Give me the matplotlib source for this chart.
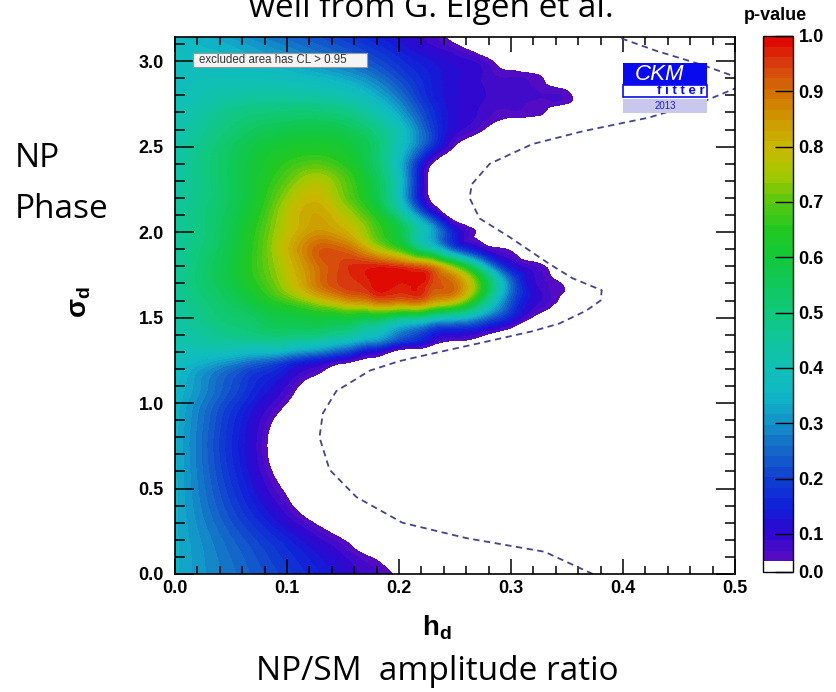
import numpy as np
import matplotlib.pyplot as plt
import matplotlib.tri as mtri
from matplotlib.colors import LinearSegmentedColormap, ListedColormap, BoundaryNorm
from matplotlib.patches import Rectangle
from matplotlib.ticker import MultipleLocator, FormatStrFormatter

# ---------------- SCAN GRID ----------------
h_grid = [0.0, 0.025, 0.05, 0.075, 0.1, 0.125, 0.15, 0.175, 0.2, 0.225, 0.25,
          0.275, 0.3, 0.325, 0.35, 0.375, 0.4, 0.425, 0.45, 0.475, 0.5]

sigma_grid = [0.0, 0.1, 0.2, 0.3, 0.4, 0.5, 0.6, 0.7, 0.8, 0.9, 1.0, 1.1, 1.2,
              1.25, 1.3, 1.35, 1.4, 1.5, 1.6, 1.7, 1.8, 1.9, 2.0, 2.1, 2.2,
              2.3, 2.4, 2.5, 2.6, 2.7, 2.75, 2.8, 2.85, 2.9, 3.0, 3.1, 3.1416]

# p-value per sigma row (columns follow h_grid)
p_rows = [
    [0.34, 0.30, 0.265, 0.227, 0.19, 0.15, 0.113, 0.076, 0.038, 0, 0, 0, 0, 0, 0, 0, 0, 0, 0, 0, 0],
    [0.34, 0.298, 0.257, 0.215, 0.173, 0.132, 0.09, 0.048, 0.007, 0, 0, 0, 0, 0, 0, 0, 0, 0, 0, 0, 0],
    [0.34, 0.292, 0.243, 0.195, 0.147, 0.098, 0.05, 0.002, 0, 0, 0, 0, 0, 0, 0, 0, 0, 0, 0, 0, 0],
    [0.34, 0.281, 0.222, 0.163, 0.104, 0.045, 0, 0, 0, 0, 0, 0, 0, 0, 0, 0, 0, 0, 0, 0, 0],
    [0.34, 0.271, 0.202, 0.133, 0.064, 0, 0, 0, 0, 0, 0, 0, 0, 0, 0, 0, 0, 0, 0, 0, 0],
    [0.34, 0.263, 0.186, 0.109, 0.036, 0, 0, 0, 0, 0, 0, 0, 0, 0, 0, 0, 0, 0, 0, 0, 0],
    [0.34, 0.257, 0.173, 0.09, 0.012, 0, 0, 0, 0, 0, 0, 0, 0, 0, 0, 0, 0, 0, 0, 0, 0],
    [0.34, 0.253, 0.165, 0.078, 0, 0, 0, 0, 0, 0, 0, 0, 0, 0, 0, 0, 0, 0, 0, 0, 0],
    [0.34, 0.253, 0.165, 0.078, 0, 0, 0, 0, 0, 0, 0, 0, 0, 0, 0, 0, 0, 0, 0, 0, 0],
    [0.345, 0.259, 0.173, 0.09, 0.015, 0, 0, 0, 0, 0, 0, 0, 0, 0, 0, 0, 0, 0, 0, 0, 0],
    [0.35, 0.272, 0.194, 0.118, 0.048, 0, 0, 0, 0, 0, 0, 0, 0, 0, 0, 0, 0, 0, 0, 0, 0],
    [0.36, 0.29, 0.22, 0.151, 0.083, 0.015, 0, 0, 0, 0, 0, 0, 0, 0, 0, 0, 0, 0, 0, 0, 0],
    [0.37, 0.311, 0.251, 0.192, 0.133, 0.075, 0.016, 0, 0, 0, 0, 0, 0, 0, 0, 0, 0, 0, 0, 0, 0],
    [0.38, 0.35, 0.31, 0.26, 0.20, 0.14, 0.08, 0.03, 0, 0, 0, 0, 0, 0, 0, 0, 0, 0, 0, 0, 0],
    [0.39, 0.39, 0.38, 0.36, 0.33, 0.28, 0.21, 0.11, 0.02, 0, 0, 0, 0, 0, 0, 0, 0, 0, 0, 0, 0],
    [0.41, 0.43, 0.44, 0.44, 0.43, 0.40, 0.34, 0.26, 0.16, 0.09, 0.03, 0, 0, 0, 0, 0, 0, 0, 0, 0, 0],
    [0.42, 0.45, 0.48, 0.50, 0.51, 0.50, 0.46, 0.38, 0.26, 0.16, 0.10, 0.055, 0, 0, 0, 0, 0, 0, 0, 0, 0],
    [0.44, 0.48, 0.52, 0.55, 0.58, 0.60, 0.60, 0.57, 0.50, 0.44, 0.37, 0.27, 0.14, 0.03, 0, 0, 0, 0, 0, 0, 0],
    [0.45, 0.50, 0.55, 0.61, 0.68, 0.76, 0.84, 0.89, 0.90, 0.88, 0.79, 0.52, 0.22, 0.09, 0.03, 0, 0, 0, 0, 0, 0],
    [0.45, 0.52, 0.58, 0.66, 0.76, 0.88, 0.95, 0.98, 0.98, 0.96, 0.89, 0.62, 0.25, 0.08, 0.04, 0, 0, 0, 0, 0, 0],
    [0.45, 0.52, 0.59, 0.68, 0.78, 0.89, 0.95, 0.97, 0.95, 0.89, 0.69, 0.38, 0.12, 0.06, 0, 0, 0, 0, 0, 0, 0],
    [0.45, 0.51, 0.58, 0.68, 0.80, 0.91, 0.91, 0.80, 0.67, 0.46, 0.22, 0.09, 0.045, 0, 0, 0, 0, 0, 0, 0, 0],
    [0.45, 0.50, 0.57, 0.67, 0.78, 0.85, 0.82, 0.71, 0.58, 0.36, 0.13, 0.03, 0, 0, 0, 0, 0, 0, 0, 0, 0],
    [0.45, 0.50, 0.56, 0.65, 0.77, 0.83, 0.77, 0.66, 0.48, 0.20, 0, 0, 0, 0, 0, 0, 0, 0, 0, 0, 0],
    [0.44, 0.49, 0.55, 0.63, 0.74, 0.80, 0.72, 0.60, 0.38, 0.06, 0, 0, 0, 0, 0, 0, 0, 0, 0, 0, 0],
    [0.44, 0.49, 0.55, 0.62, 0.70, 0.76, 0.70, 0.58, 0.38, 0.055, 0, 0, 0, 0, 0, 0, 0, 0, 0, 0, 0],
    [0.43, 0.49, 0.55, 0.61, 0.66, 0.69, 0.65, 0.55, 0.36, 0.08, 0, 0, 0, 0, 0, 0, 0, 0, 0, 0, 0],
    [0.42, 0.48, 0.54, 0.59, 0.62, 0.63, 0.61, 0.54, 0.39, 0.20, 0.045, 0, 0, 0, 0, 0, 0, 0, 0, 0, 0],
    [0.41, 0.46, 0.51, 0.55, 0.57, 0.58, 0.56, 0.50, 0.39, 0.22, 0.10, 0.05, 0, 0, 0, 0, 0, 0, 0, 0, 0],
    [0.40, 0.44, 0.48, 0.50, 0.51, 0.51, 0.49, 0.43, 0.32, 0.19, 0.11, 0.08, 0.065, 0.055, 0, 0, 0, 0, 0, 0, 0],
    [0.395, 0.425, 0.455, 0.47, 0.475, 0.47, 0.45, 0.39, 0.29, 0.175, 0.11, 0.085, 0.072, 0.062, 0.045, 0, 0, 0, 0, 0, 0],
    [0.39, 0.41, 0.43, 0.44, 0.44, 0.43, 0.41, 0.35, 0.26, 0.16, 0.11, 0.09, 0.08, 0.07, 0.06, 0, 0, 0, 0, 0, 0],
    [0.385, 0.40, 0.41, 0.415, 0.41, 0.395, 0.37, 0.315, 0.235, 0.155, 0.11, 0.088, 0.075, 0.062, 0.03, 0, 0, 0, 0, 0, 0],
    [0.38, 0.39, 0.39, 0.39, 0.38, 0.36, 0.33, 0.28, 0.21, 0.15, 0.11, 0.085, 0.07, 0.055, 0, 0, 0, 0, 0, 0, 0],
    [0.38, 0.37, 0.36, 0.34, 0.32, 0.29, 0.26, 0.22, 0.17, 0.13, 0.10, 0.07, 0.02, 0, 0, 0, 0, 0, 0, 0, 0],
    [0.37, 0.35, 0.33, 0.30, 0.27, 0.24, 0.21, 0.17, 0.13, 0.09, 0.05, 0, 0, 0, 0, 0, 0, 0, 0, 0, 0],
    [0.36, 0.34, 0.31, 0.28, 0.25, 0.22, 0.19, 0.15, 0.12, 0.08, 0.03, 0, 0, 0, 0, 0, 0, 0, 0, 0, 0],
]

# dashed contour (h_d, sigma_d)
dash_h = [0.373, 0.33, 0.26, 0.203, 0.162, 0.138, 0.129, 0.132, 0.144, 0.174,
          0.20, 0.23, 0.275, 0.319, 0.343, 0.367, 0.38, 0.381, 0.355, 0.334,
          0.299, 0.272, 0.263, 0.265, 0.281, 0.319, 0.364, 0.423, 0.474, 0.50,
          0.52, 0.50, 0.47, 0.43, 0.395]
dash_sigma = [0.0, 0.13, 0.21, 0.30, 0.45, 0.61, 0.80, 0.94, 1.07, 1.19,
              1.245, 1.29, 1.355, 1.42, 1.465, 1.54, 1.60, 1.66, 1.73, 1.815,
              1.97, 2.08, 2.20, 2.28, 2.40, 2.515, 2.59, 2.67, 2.77, 2.84,
              2.875, 2.91, 2.98, 3.06, 3.1416]

x_ticks = [0.0, 0.1, 0.2, 0.3, 0.4, 0.5]
y_ticks = [0.0, 0.5, 1.0, 1.5, 2.0, 2.5, 3.0]
cbar_ticks = [0.0, 0.1, 0.2, 0.3, 0.4, 0.5, 0.6, 0.7, 0.8, 0.9, 1.0]

plt.rcParams["font.family"] = "Liberation Sans"
plt.rcParams["mathtext.fontset"] = "custom"
plt.rcParams["mathtext.rm"] = "Liberation Sans"
plt.rcParams["mathtext.bf"] = "Liberation Sans:bold"
plt.rcParams["mathtext.it"] = "Liberation Sans:italic"

# ---------------- PALETTE ----------------
stops = [
    (0.05, "#5a0cc2"), (0.10, "#2c08d0"), (0.15, "#1020d8"), (0.20, "#1040d0"),
    (0.25, "#1468c8"), (0.30, "#1490c8"), (0.35, "#10b8c6"), (0.40, "#10c0b4"),
    (0.45, "#10c49c"), (0.50, "#10c87c"), (0.55, "#10c85a"), (0.60, "#12c83a"),
    (0.65, "#22c822"), (0.70, "#58c810"), (0.75, "#a8c800"), (0.80, "#c8b800"),
    (0.85, "#d09800"), (0.90, "#d07000"), (0.95, "#d84010"), (1.00, "#e00000"),
]
rainbow = LinearSegmentedColormap.from_list(
    "pval", [((v - 0.05) / 0.95, c) for v, c in stops]
)

levels = [0.0] + list(np.linspace(0.05, 1.0, 51))
band_colors = ["white"]
for i in range(1, len(levels) - 1):
    mid = 0.5 * (levels[i] + levels[i + 1])
    band_colors.append(rainbow((mid - 0.05) / 0.95))
cmap = ListedColormap(band_colors)
norm = BoundaryNorm(levels, cmap.N)

# ---------------- SMOOTH FIELD ----------------
H, S = np.meshgrid(h_grid, sigma_grid)
P = np.array(p_rows)

tri_unit = mtri.Triangulation(H.ravel() / 0.5, S.ravel() / np.pi)
interp = mtri.CubicTriInterpolator(tri_unit, P.ravel(), kind="min_E")
fine, p_fine = mtri.UniformTriRefiner(tri_unit).refine_field(
    P.ravel(), triinterpolator=interp, subdiv=3
)
fine_data = mtri.Triangulation(fine.x * 0.5, fine.y * np.pi, fine.triangles)
p_fine = np.clip(p_fine, 0.0, 0.999)

# ---------------- FIGURE ----------------
fig = plt.figure(figsize=(8.37, 6.92), dpi=100)
ax = fig.add_axes([175 / 837, 1 - 574 / 692, 560 / 837, 537 / 692])

cs = ax.tricontourf(fine_data, p_fine, levels=levels, cmap=cmap, norm=norm)
cs.set_edgecolor("face")
cs.set_linewidth(0.3)

ax.plot(dash_h, dash_sigma, color="#44448a", lw=1.3, ls=(0, (3.5, 2.5)))

ax.set_xlim(0, 0.5)
ax.set_ylim(0, np.pi)
ax.set_xticks(x_ticks)
ax.set_yticks(y_ticks)
ax.xaxis.set_minor_locator(MultipleLocator(0.02))
ax.yaxis.set_minor_locator(MultipleLocator(0.1))
ax.xaxis.set_major_formatter(FormatStrFormatter("%.1f"))
ax.yaxis.set_major_formatter(FormatStrFormatter("%.1f"))

ax.tick_params(which="both", direction="in", top=True, right=True,
               width=1.1, labelsize=13)
ax.tick_params(axis="x", which="major", length=11, pad=4)
ax.tick_params(axis="x", which="minor", length=6)
ax.tick_params(axis="y", which="major", length=14, pad=8)
ax.tick_params(axis="y", which="minor", length=7)
for lab in ax.get_xticklabels() + ax.get_yticklabels():
    lab.set_fontweight("bold")
for sp in ax.spines.values():
    sp.set_linewidth(1.2)

# legend note
ax.add_patch(Rectangle((0.032, 0.944), 0.311, 0.026, transform=ax.transAxes,
                       fc="#f4f4f4", ec="#9a9a9a", lw=0.8, zorder=5))
ax.text(0.042, 0.957, "excluded area has CL > 0.95", transform=ax.transAxes,
        fontsize=8.3, color="#333333", va="center", zorder=6)

# CKMfitter logo
ax.add_patch(Rectangle((0.80, 0.9106), 0.15, 0.041, transform=ax.transAxes,
                       fc="#0a0aee", ec="none", zorder=5))
ax.add_patch(Rectangle((0.80, 0.888), 0.15, 0.0226, transform=ax.transAxes,
                       fc="white", ec="#0a0aee", lw=1.2, zorder=5))
ax.add_patch(Rectangle((0.80, 0.8585), 0.15, 0.026, transform=ax.transAxes,
                       fc="#c8c8ee", ec="none", zorder=5))
ax.text(0.866, 0.931, "CKM", transform=ax.transAxes, color="white",
        fontsize=16, style="italic", ha="center", va="center", zorder=6)
ax.text(0.946, 0.899, "f i t t e r", transform=ax.transAxes, color="#0a0aee",
        fontsize=9.5, fontweight="bold", ha="right", va="center", zorder=6)
ax.text(0.875, 0.8715, "2013", transform=ax.transAxes, color="#2020c0",
        fontsize=7, ha="center", va="center", zorder=6)

# ---------------- COLOR BAR ----------------
cax = fig.add_axes([763 / 837, 1 - 572 / 692, 30 / 837, 536 / 692])
cb = fig.colorbar(cs, cax=cax, ticks=cbar_ticks)
cb.ax.yaxis.set_major_formatter(FormatStrFormatter("%.1f"))
cb.ax.tick_params(direction="in", length=13, width=1, labelsize=13, pad=4)
for lab in cb.ax.get_yticklabels():
    lab.set_fontweight("bold")
cb.outline.set_linewidth(1)
cb.ax.minorticks_off()

fig.text(775 / 837, 1 - 15 / 692, "p-value", ha="center", va="center",
         fontsize=13, fontweight="bold")

# ---------------- AXIS TITLES ----------------
fig.text(437 / 837, 1 - 628 / 692, r"$\mathbf{h}_\mathbf{d}$", ha="center",
         va="center", fontsize=20)
fig.text(80 / 837, 1 - 302 / 692, r"$\mathbf{\sigma}_\mathbf{d}$", ha="center",
         va="center", fontsize=20, rotation=90)

fig.text(0.515, 1 - 17 / 692, "well from G. Eigen et al.", family="Open Sans",
         fontsize=24, ha="center", va="baseline")
fig.text(15 / 837, 1 - 167 / 692, "NP", family="Open Sans", fontsize=24,
         ha="left", va="baseline")
fig.text(15 / 837, 1 - 218 / 692, "Phase", family="Open Sans", fontsize=24,
         ha="left", va="baseline")
fig.text(437 / 837, 1 - 680 / 692, "NP/SM  amplitude ratio", family="Open Sans",
         fontsize=24, ha="center", va="baseline")

fig.savefig("out.png", dpi=100)
